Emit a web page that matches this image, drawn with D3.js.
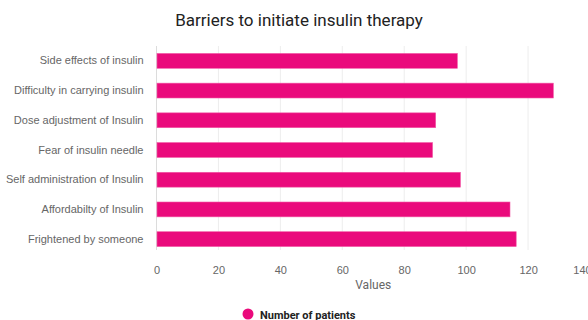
<!DOCTYPE html>
<head>
  <meta charset="utf-8">
  <style>
    body { margin: 0; background: #fff; }
    svg { font-family: Roboto, sans-serif; }
    .tick text { fill: #666; font-size: 11px; }
    .grid line { stroke: #ededed; }
  </style>
</head>
<body>
  <svg></svg>
  <script src="https://d3js.org/d3.v7.min.js"></script>
  <script type="text/javascript">
    const categories = [
      "Side effects of insulin",
      "Difficulty in carrying insulin",
      "Dose adjustment of Insulin",
      "Fear of insulin needle",
      "Self administration of Insulin",
      "Affordabilty of Insulin",
      "Frightened by someone"
    ];
    const patients = [97, 128, 90, 89, 98, 114, 116];
    const xTicks = [0, 20, 40, 60, 80, 100, 120, 140];

    const width = 588, height = 320;
    const margin = {top: 46, right: -2, bottom: 66, left: 156.5};
    const color = "#ea0a7c";

    const svg = d3.select("svg").attr("width", width).attr("height", height);

    const x = d3.scaleLinear().domain([0, 140]).range([margin.left, width - margin.right]);
    const y = d3.scaleBand().domain(categories).range([margin.top, height - margin.bottom])
      .paddingInner(0.5).paddingOuter(0.25);

    // grid
    svg.append("g").classed("grid", true)
      .selectAll("line").data(xTicks).enter().append("line")
        .attr("x1", d => x(d)).attr("x2", d => x(d))
        .attr("y1", margin.top).attr("y2", height - margin.bottom - 4);

    svg.append("line")
      .attr("x1", x(0)).attr("x2", x(0))
      .attr("y1", margin.top).attr("y2", height - margin.bottom - 4)
      .attr("stroke", "#dcdcdc");

    svg.append("g").selectAll("rect").data(patients).enter().append("rect")
      .attr("x", x(0) + 0.5)
      .attr("y", (d, i) => y(categories[i]))
      .attr("width", d => x(d) - x(0))
      .attr("height", y.bandwidth())
      .attr("fill", color)
      .attr("stroke", "#f25aa6")
      .attr("stroke-width", 0.6);

    // y axis labels
    const yAxis = svg.append("g").attr("transform", `translate(${margin.left - 13},0)`)
      .call(d3.axisLeft(y).tickSize(0).tickPadding(0));
    yAxis.select(".domain").remove();

    // x axis labels
    const xAxis = svg.append("g").attr("transform", `translate(0,${height - margin.bottom + 3})`)
      .call(d3.axisBottom(x).tickValues(xTicks).tickSize(0).tickPadding(9));
    xAxis.select(".domain").remove();
    // last label is pulled in so it only just runs off the edge
    xAxis.selectAll(".tick text").filter(d => d === 140).attr("dx", -8);

    svg.append("text")
      .attr("x", (x(0) + x(140)) / 2).attr("y", 289)
      .attr("text-anchor", "middle")
      .attr("fill", "#666").attr("font-size", 12)
      .text("Values");

    svg.append("text")
      .attr("x", 299).attr("y", 26)
      .attr("text-anchor", "middle")
      .attr("fill", "#222").attr("font-size", 17)
      .text("Barriers to initiate insulin therapy");

    // legend
    svg.append("circle").attr("cx", 248).attr("cy", 314).attr("r", 5.5).attr("fill", color);
    svg.append("text")
      .attr("x", 260).attr("y", 319)
      .attr("fill", "#222").attr("font-size", 11).attr("font-weight", "bold")
      .text("Number of patients");
  </script>
</body>
